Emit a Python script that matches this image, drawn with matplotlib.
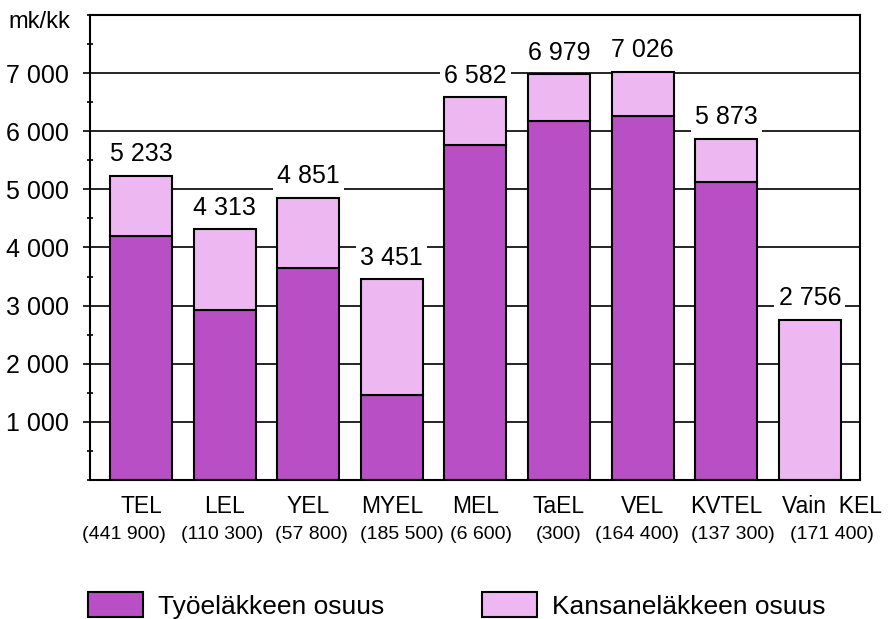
import matplotlib.pyplot as plt
from matplotlib.patches import Patch
from matplotlib.ticker import MultipleLocator

plt.rcParams["font.family"] = ["Liberation Sans", "DejaVu Sans"]

# Data (mk/kk)
categories = ["TEL", "LEL", "YEL", "MYEL", "MEL", "TaEL", "VEL", "KVTEL", "Vain  KEL"]
counts = ["(441 900)", "(110 300)", "(57 800)", "(185 500)", "(6 600)",
          "(300)", "(164 400)", "(137 300)", "(171 400)"]
totals = [5233, 4313, 4851, 3451, 6582, 6979, 7026, 5873, 2756]
tyoelake = [4200, 2930, 3640, 1470, 5760, 6170, 6260, 5120, 0]
kansanelake = [t - w for t, w in zip(totals, tyoelake)]

dark = "#b94fc4"
light = "#edb8f2"

fig = plt.figure(figsize=(8.89, 6.19), dpi=100)
ax = fig.add_axes([0.1012, 0.2246, 0.8662, 0.7512])

x = list(range(len(categories)))
width = 0.74

# Horizontal grid behind the bars
for yv in range(1000, 8000, 1000):
    ax.axhline(yv, color="black", linewidth=1.2, zorder=0)

ax.bar(x, tyoelake, width, color=dark, edgecolor="black", linewidth=1.5, zorder=2)
ax.bar(x, kansanelake, width, bottom=tyoelake, color=light, edgecolor="black",
       linewidth=1.5, zorder=2)

# Value labels above bars
for i, tot in enumerate(totals):
    ax.annotate(f"{tot:,}".replace(",", " "), xy=(i, tot), xytext=(0, 7),
                textcoords="offset points", ha="center", va="bottom", fontsize=18,
                bbox=dict(facecolor="white", edgecolor="none", pad=3), zorder=3)

# Category labels below the axis
shift = [0, 0, 0, 0, 0, 0, 0, 0, 0.26]
sub_shift = [-0.2, -0.03, 0.04, 0.12, 0.07, 0, -0.07, 0.08, 0.26]
trans = ax.get_xaxis_transform()
for i, (cat, cnt) in enumerate(zip(categories, counts)):
    ax.text(i + shift[i], -0.056, cat, transform=trans, ha="center", va="center",
            fontsize=16.5)
    ax.text(i + sub_shift[i], -0.118, cnt, transform=trans, ha="center", va="center",
            fontsize=14)

ax.set_xlim(-0.61, 8.6)
ax.set_ylim(0, 8000)
ax.set_xticks([])
ax.set_yticks(range(1000, 8000, 1000))
ax.set_yticklabels([f"{v:,}".replace(",", " ") for v in range(1000, 8000, 1000)],
                   fontsize=18)
ax.yaxis.set_minor_locator(MultipleLocator(500))
ax.tick_params(axis="y", which="major", direction="out", length=5, width=1.2, pad=10)
ax.tick_params(axis="y", which="minor", direction="inout", length=5, width=1.2)
for sp in ax.spines.values():
    sp.set_linewidth(1.5)

ax.text(-0.026, 7880, "mk/kk", transform=ax.get_yaxis_transform(), ha="right",
        va="center", fontsize=17)

handles = [Patch(facecolor=dark, edgecolor="black", linewidth=1.5),
           Patch(facecolor=light, edgecolor="black", linewidth=1.5)]
fig.legend(handles, ["Työeläkkeen osuus", "Kansaneläkkeen osuus"], loc="upper left",
           bbox_to_anchor=(0.099, 0.0436), ncol=2, frameon=False, fontsize=19,
           borderpad=0, handlelength=2.08, handleheight=1.1, handletextpad=0.57,
           columnspacing=3.7, borderaxespad=0)

fig.savefig("out.png", dpi=100)
